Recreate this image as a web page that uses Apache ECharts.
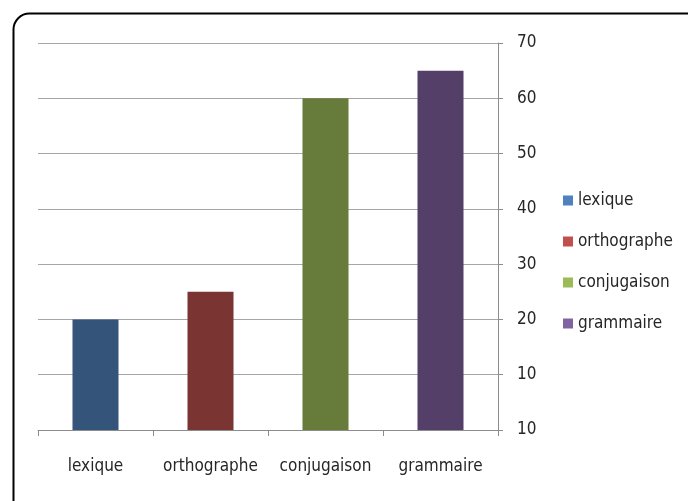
<!DOCTYPE html>
<html>
<head>
<meta charset="utf-8">
<script src="https://cdn.jsdelivr.net/npm/echarts@6/dist/echarts.min.js"></script>
<style>
  html, body { margin: 0; padding: 0; background: #fff; }
  #chart { width: 688px; height: 501px; }
</style>
</head>
<body>
<div id="chart"></div>
<script>
// données du graphique
const categories = ["lexique", "orthographe", "conjugaison", "grammaire"];
const values = [20, 25, 60, 65];
const yTickLabels = ["10", "10", "20", "30", "40", "50", "60", "70"];
const barColors = ["#345579", "#7a3432", "#677b3a", "#533f68"];
const legendColors = ["#4f81bd", "#c0504d", "#9bbb59", "#8064a2"];

const font = "'DejaVu Sans Condensed', 'Liberation Sans Narrow', sans-serif";
const chart = echarts.init(document.getElementById("chart"));

// une série par catégorie pour avoir la légende
const series = categories.map((name, i) => ({
  name: name,
  type: "bar",
  stack: "all",
  barWidth: "40%",
  itemStyle: { color: barColors[i] },
  data: categories.map((c, j) => (j === i ? values[i] : null)),
}));

chart.setOption({
  animation: false,
  textStyle: { fontFamily: font },
  grid: { left: 38, right: 190, top: 43, bottom: 71 },
  legend: {
    orient: "vertical",
    left: 558,
    top: 187,
    itemWidth: 10,
    itemHeight: 10,
    itemGap: 24,
    textStyle: { fontSize: 17, color: "#262626", fontFamily: font },
    data: categories.map((c, i) => ({
      name: c,
      icon: "rect",
      itemStyle: { color: legendColors[i] },
    })),
  },
  xAxis: {
    type: "category",
    data: categories,
    axisLine: { lineStyle: { color: "#8c8c8c" } },
    axisTick: { show: true, interval: 0, length: 6, lineStyle: { color: "#8c8c8c" } },
    axisLabel: { interval: 0, fontSize: 17, color: "#262626", margin: 28, fontFamily: font },
  },
  yAxis: {
    type: "value",
    position: "right",
    min: 0,
    max: 70,
    interval: 10,
    axisLine: { show: true, lineStyle: { color: "#8c8c8c" } },
    axisTick: { show: true, length: 5, lineStyle: { color: "#8c8c8c" } },
    axisLabel: {
      fontSize: 17,
      color: "#262626",
      margin: 19,
      fontFamily: font,
      formatter: (v) => yTickLabels[Math.round(v / 10)],
    },
    splitLine: { lineStyle: { color: "#a6a6a6" } },
  },
  graphic: [
    {
      type: "rect",
      left: 11,
      top: 11,
      shape: { width: 700, height: 520, r: 16 },
      style: { fill: "none", stroke: "#000", lineWidth: 2 },
      z: 100,
    },
  ],
  series: series,
});
</script>
</body>
</html>
